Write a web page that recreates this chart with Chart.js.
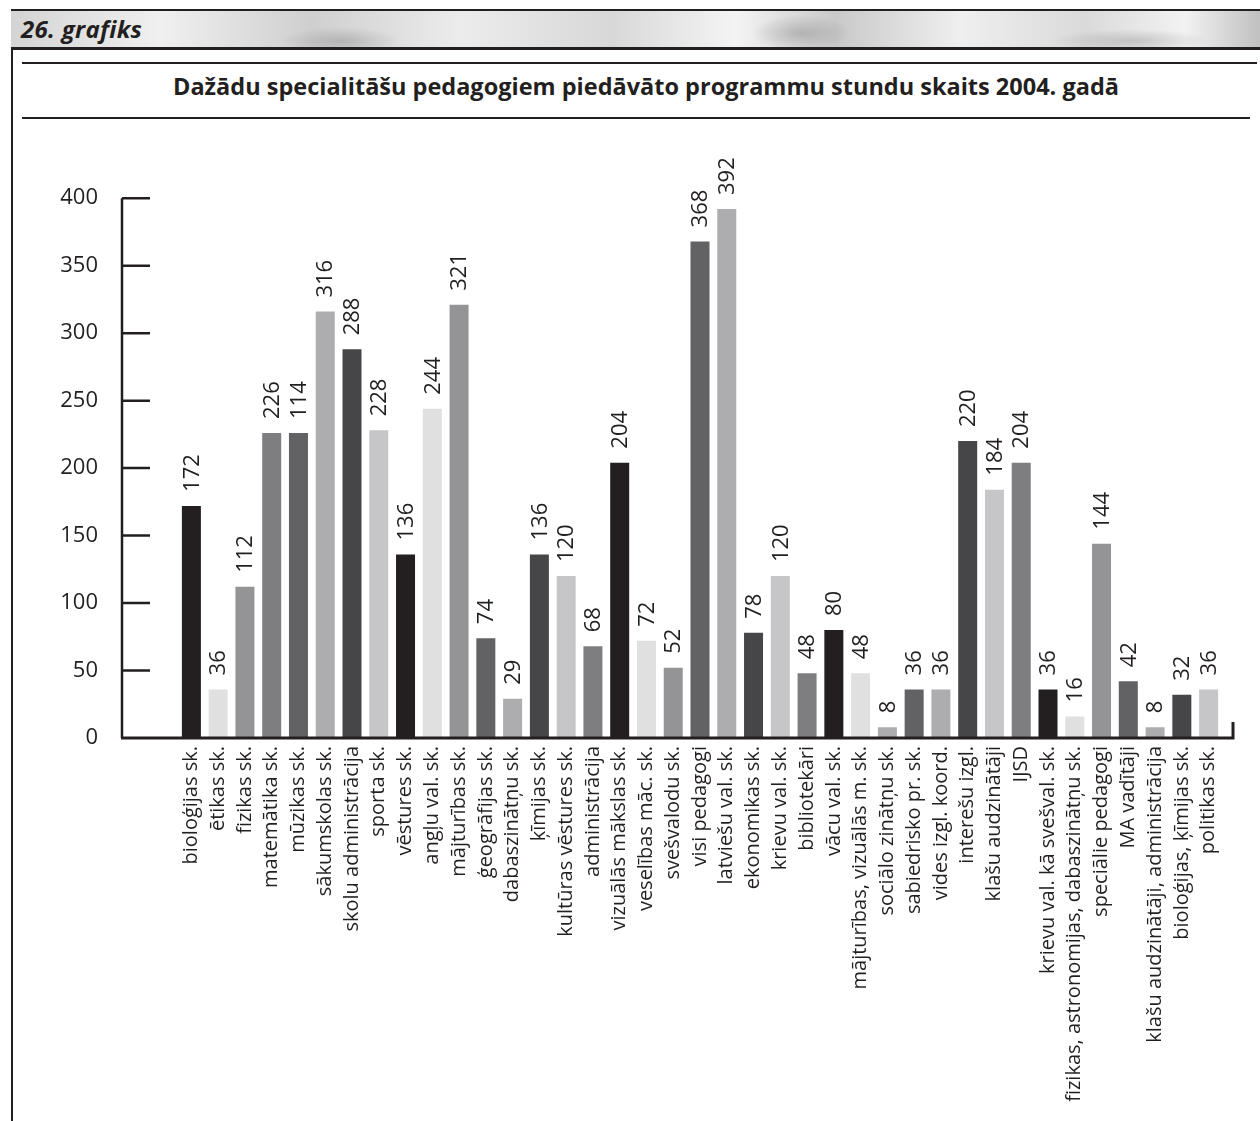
<!DOCTYPE html>
<html>
<head>
<meta charset="utf-8">
<title>26. grafiks</title>
<script src="https://cdn.jsdelivr.net/npm/chart.js"></script>
<style>
  html, body { margin: 0; padding: 0; background: #fff; }
  body { width: 1260px; height: 1121px; position: relative; overflow: hidden; font-family: 'Open Sans', sans-serif; color: #231f20; }
  .frame-left { position: absolute; left: 11px; top: 9px; width: 2px; height: 1112px; background: #231f20; }
  .band {
    position: absolute; left: 11px; top: 9px; width: 1249px; height: 36px;
    border-top: 2px solid #231f20; border-bottom: 3px solid #231f20;
    background:
      radial-gradient(ellipse 60px 14px at 330px 30px, rgba(120,120,120,0.35), transparent),
      radial-gradient(ellipse 50px 18px at 790px 22px, rgba(110,110,110,0.35), transparent),
      radial-gradient(ellipse 80px 12px at 1120px 30px, rgba(130,130,130,0.35), transparent),
      linear-gradient(90deg, #d4d4d4 0%, #f0f0f0 12%, #cfcfcf 24%, #ececec 36%, #d8d8d8 48%, #f4f4f4 58%, #c9c9c9 66%, #efefef 76%, #dadada 86%, #f2f2f2 94%, #c0c0c0 100%);
  }
  .band span { position: absolute; left: 10px; top: 1px; font-size: 24px; font-weight: bold; font-style: italic; letter-spacing: 0.3px; }
  .rule { position: absolute; left: 22px; height: 2px; background: #231f20; }
  .title { position: absolute; left: 22px; width: 1248px; top: 70px; text-align: center; font-size: 23.5px; font-weight: bold; }
  #wrap { position: absolute; left: 0; top: 105px; width: 1260px; height: 1016px; }
</style>
</head>
<body>
<div class="frame-left"></div>
<div class="band"><span>26. grafiks</span></div>
<div class="rule" style="top:62px; width:1235px;"></div>
<div class="title">Dažādu specialitāšu pedagogiem piedāvāto programmu stundu skaits 2004. gadā</div>
<div class="rule" style="top:117px; width:1228px;"></div>
<div id="wrap"><canvas id="barChart" width="1260" height="1016"></canvas></div>

<script>
// categories (specialities)
var categories = [
  'bioloģijas sk.', 'ētikas sk.', 'fizikas sk.', 'matemātika sk.', 'mūzikas sk.',
  'sākumskolas sk.', 'skolu administrācija', 'sporta sk.', 'vēstures sk.', 'angļu val. sk.',
  'mājturības sk.', 'ģeogrāfijas sk.', 'dabaszinātņu sk.', 'ķīmijas sk.', 'kultūras vēstures sk.',
  'administrācija', 'vizuālās mākslas sk.', 'veselības māc. sk.', 'svešvalodu sk.', 'visi pedagogi',
  'latviešu val. sk.', 'ekonomikas sk.', 'krievu val. sk.', 'bibliotekāri', 'vācu val. sk.',
  'mājturības, vizuālās m. sk.', 'sociālo zinātņu sk.', 'sabiedrisko pr. sk.', 'vides izgl. koord.', 'interešu izgl.',
  'klašu audzinātāji', 'IJSD', 'krievu val. kā svešval. sk.', 'fizikas, astronomijas, dabaszinātņu sk.', 'speciālie pedagogi',
  'MA vadītāji', 'klašu audzinātāji, administrācija', 'bioloģijas, ķīmijas sk.', 'politikas sk.'
];

// bar heights as drawn
var hours = [
  172, 36, 112, 226, 226,
  316, 288, 228, 136, 244,
  321, 74, 29, 136, 120,
  68, 204, 72, 52, 368,
  392, 78, 120, 48, 80,
  48, 8, 36, 36, 220,
  184, 204, 36, 16, 144,
  42, 8, 32, 36
];

// numbers printed above the bars (the original prints 114 over the 226 bar)
var printed = [
  '172', '36', '112', '226', '114',
  '316', '288', '228', '136', '244',
  '321', '74', '29', '136', '120',
  '68', '204', '72', '52', '368',
  '392', '78', '120', '48', '80',
  '48', '8', '36', '36', '220',
  '184', '204', '36', '16', '144',
  '42', '8', '32', '36'
];

var yTicks = [0, 50, 100, 150, 200, 250, 300, 350, 400];

// bar fills
var K = '#231f20', VL = '#e0e0e1', MID = '#949496', GR = '#7e7e80',
    DK = '#626264', LG = '#adadaf', CH = '#464648', LT = '#c6c6c8';
var barColors = [
  K, VL, MID, GR, DK, LG, CH, LT,
  K, VL, MID, DK, LG, CH, LT, GR,
  K, VL, MID, DK, LG, CH, LT, GR,
  K, VL, LG, DK, LG, CH, LT, GR,
  K, VL, MID, DK, LG, CH, LT
];

var ink = '#231f20';

// value labels, rotated, just above each bar
var valueLabels = {
  id: 'valueLabels',
  afterDatasetsDraw: function (chart) {
    var ctx = chart.ctx;
    var meta = chart.getDatasetMeta(0);
    ctx.save();
    ctx.fillStyle = ink;
    ctx.font = '22px "Open Sans", sans-serif';
    ctx.textAlign = 'left';
    ctx.textBaseline = 'middle';
    meta.data.forEach(function (bar, i) {
      ctx.save();
      ctx.translate(bar.x + 1, bar.y - 14);
      ctx.rotate(-Math.PI / 2);
      ctx.fillText(printed[i], 0, 0);
      ctx.restore();
    });
    ctx.restore();
  }
};

// axis lines drawn a little left of the first bar, like the original
var axisLines = {
  id: 'axisLines',
  afterDraw: function (chart) {
    var ctx = chart.ctx;
    var y = chart.scales.y;
    var area = chart.chartArea;
    var axisX = area.left - 56;
    var zeroY = y.getPixelForValue(0);
    ctx.save();
    ctx.strokeStyle = ink;
    ctx.lineWidth = 2.5;
    ctx.beginPath();
    ctx.moveTo(axisX, y.getPixelForValue(400));
    ctx.lineTo(axisX, zeroY);
    yTicks.forEach(function (v) {
      if (v === 0) return;
      var py = y.getPixelForValue(v);
      ctx.moveTo(axisX, py);
      ctx.lineTo(axisX + 28, py);
    });
    ctx.stroke();
    ctx.lineWidth = 3;
    ctx.beginPath();
    ctx.moveTo(axisX - 1, zeroY);
    ctx.lineTo(area.right + 11, zeroY);
    ctx.lineTo(area.right + 11, zeroY - 16);
    ctx.stroke();
    ctx.restore();
  }
};

document.addEventListener('DOMContentLoaded', function () {
  var ctx = document.getElementById('barChart').getContext('2d');
  new Chart(ctx, {
    type: 'bar',
    data: {
      labels: categories,
      datasets: [{
        data: hours,
        backgroundColor: barColors,
        borderWidth: 0,
        categoryPercentage: 1,
        barPercentage: 0.71
      }]
    },
    options: {
      responsive: false,
      animation: false,
      layout: { padding: { top: 0, right: 38, left: 0, bottom: 0 } },
      plugins: { legend: { display: false }, tooltip: { enabled: false } },
      scales: {
        x: {
          grid: { display: false, drawTicks: false },
          border: { display: false },
          afterFit: function (scale) { scale.height = 383; },
          ticks: {
            autoSkip: false,
            maxRotation: 90,
            minRotation: 90,
            padding: 8,
            color: ink,
            font: { family: '"Open Sans", sans-serif', size: 20 }
          }
        },
        y: {
          min: 0,
          max: 400,
          grid: { display: false, drawTicks: false },
          border: { display: false },
          afterFit: function (scale) { scale.width = 178; },
          afterBuildTicks: function (scale) {
            scale.ticks = yTicks.map(function (v) { return { value: v }; });
          },
          ticks: {
            padding: 80,
            color: ink,
            font: { family: '"Open Sans", sans-serif', size: 22 }
          }
        }
      }
    },
    plugins: [valueLabels, axisLines]
  });
});
</script>
</body>
</html>
